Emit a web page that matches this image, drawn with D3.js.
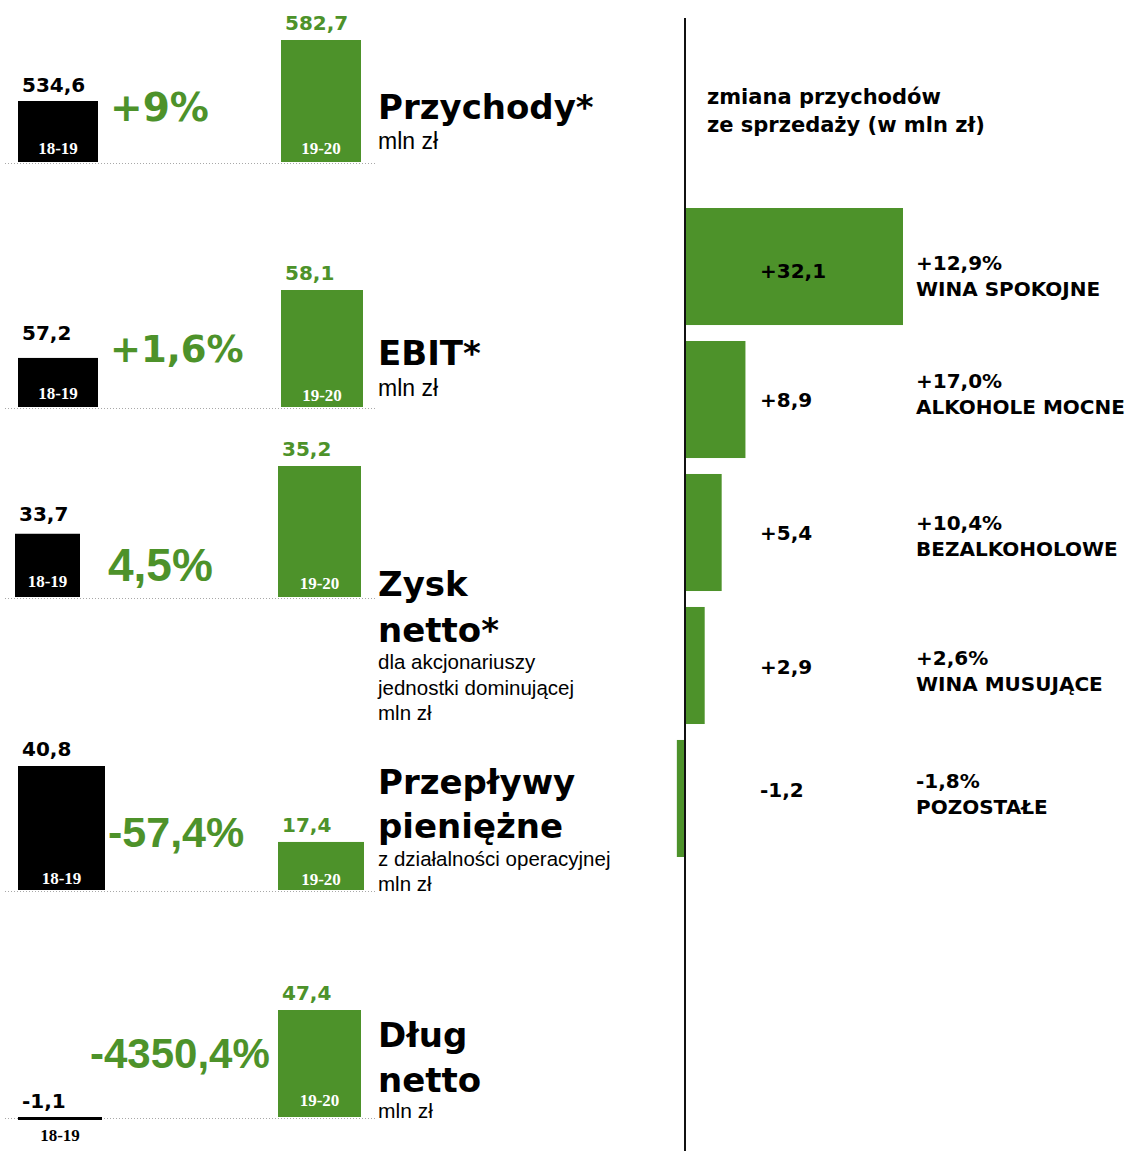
<!DOCTYPE html>
<meta charset="utf-8">
<title>Wyniki finansowe</title>
<style>
    body {
        margin: 0;
        background: #fff;
    }
    text {
        font-family: "DejaVu Sans", Verdana, sans-serif;
    }
    .val {
        font-size: 20px;
        font-weight: bold;
    }
    .period {
        font-family: "Liberation Serif", "Times New Roman", serif;
        font-weight: bold;
        font-size: 17px;
        text-anchor: middle;
    }
    .title {
        font-size: 34px;
        font-weight: bold;
    }
    .sub {
        font-family: "Liberation Sans", Arial, sans-serif;
    }
</style>

<body>
    <div id="chart"></div>
    <script src="https://cdnjs.cloudflare.com/ajax/libs/d3/7.8.5/d3.min.js"></script>

    <script>
        // left part: five indicators, previous vs current year
        var titleLines = [["Przychody*"], ["EBIT*"], ["Zysk", "netto*"], ["Przepływy", "pieniężne"], ["Dług", "netto"]];
        var subLines = [["mln zł"], ["mln zł"], ["dla akcjonariuszy", "jednostki dominującej", "mln zł"],
            ["z działalności operacyjnej", "mln zł"], ["mln zł"]];
        var periodLabels = ["18-19", "19-20"];
        var prevValues = [534.6, 57.2, 33.7, 40.8, -1.1];
        var currValues = [582.7, 58.1, 35.2, 17.4, 47.4];
        var changeLabels = ["+9%", "+1,6%", "4,5%", "-57,4%", "-4350,4%"];

        // right part: change of sales revenue by segment
        var segments = ["WINA SPOKOJNE", "ALKOHOLE MOCNE", "BEZALKOHOLOWE", "WINA MUSUJĄCE", "POZOSTAŁE"];
        var segChange = [32.1, 8.9, 5.4, 2.9, -1.2];
        var segPct = ["+12,9%", "+17,0%", "+10,4%", "+2,6%", "-1,8%"];

        var GREEN = "#4d922a";

        // panel layout (the bars in the original use a cut-off axis per panel)
        var panels = [
            {base: 162, floor: 486.5, hMax: 122, bx: 18, bw: 80, gx: 281, gw: 80, gapB: 9, off: [8, 8],
             cx: 110, cy: 121, cs: 39, cf: "wide", ty: [119], sy: [149], ss: 23},
            {base: 407, floor: 56.55, hMax: 117, bx: 18, bw: 80, gx: 281, gw: 82, gapB: 18, off: [8, 6],
             cx: 110, cy: 362, cs: 37, cf: "wide", ty: [365], sy: [396], ss: 23},
            {base: 597, floor: 32.3, hMax: 131, bx: 15, bw: 65, gx: 278, gw: 83, gapB: 13, off: [10, 8],
             cx: 108, cy: 581, cs: 46, cf: "narrow", ty: [596, 642], sy: [669, 695, 720], ss: 20.5},
            {base: 890, floor: 2.6, hMax: 124, bx: 18, bw: 87, gx: 278, gw: 86, gapB: 10, off: [6, 5],
             cx: 108, cy: 847, cs: 43, cf: "narrow", ty: [794, 838], sy: [866, 891], ss: 20.5},
            {base: 1117, floor: 0, hMax: 107, bx: 18, bw: 84, gx: 278, gw: 83, gapB: 9, off: [-24, 11],
             cx: 90, cy: 1068, cs: 42, cf: "narrow", ty: [1047, 1092], sy: [1118], ss: 21}
        ];

        var pl = d3.formatLocale({decimal: ",", thousands: " ", grouping: [3], currency: ["", " zł"], minus: "-"});
        var fmt = pl.format(".1f"),
            fmtSigned = pl.format("+.1f");

        var svg = d3.select("#chart")
            .append("svg")
            .attr("width", 1134)
            .attr("height", 1151);

        panels.forEach(function(p, i) {
            var vals = [prevValues[i], currValues[i]];
            var h = d3.scaleLinear().domain([p.floor, d3.max(vals)]).range([0, p.hMax]);
            var g = svg.append("g").attr("class", "panel");

            // dotted base line
            g.append("line")
                .attr("x1", 5).attr("x2", 375)
                .attr("y1", p.base + 1.5).attr("y2", p.base + 1.5)
                .attr("stroke", "#a8a8a8")
                .attr("stroke-dasharray", "1,2");

            var bars = [
                {v: vals[0], x: p.bx, w: p.bw, color: "#000", period: periodLabels[0], gap: p.gapB, off: p.off[0]},
                {v: vals[1], x: p.gx, w: p.gw, color: GREEN, period: periodLabels[1], gap: 10, off: p.off[1]}
            ];

            bars.forEach(function(b) {
                var hv = h(b.v);
                var top = hv >= 0 ? p.base - hv : p.base;
                var hh = Math.max(Math.abs(hv), 3);
                g.append("rect")
                    .attr("x", b.x)
                    .attr("y", top)
                    .attr("width", b.w)
                    .attr("height", hh)
                    .attr("fill", b.color);

                g.append("text")
                    .attr("class", "val")
                    .attr("x", b.x + 4)
                    .attr("y", Math.min(top, p.base) - b.gap)
                    .attr("fill", b.color)
                    .text(fmt(b.v));

                g.append("text")
                    .attr("class", "period")
                    .attr("x", b.x + b.w / 2)
                    .attr("y", p.base - b.off)
                    .attr("fill", b.v >= 0 ? "#fff" : "#000")
                    .text(b.period);
            });

            // percentage change
            g.append("text")
                .attr("x", p.cx)
                .attr("y", p.cy)
                .attr("fill", GREEN)
                .style("font-weight", "bold")
                .style("font-size", p.cs + "px")
                .style("font-family", p.cf == "wide" ? "'DejaVu Sans', Verdana, sans-serif" : "'Liberation Sans', Arial, sans-serif")
                .text(changeLabels[i]);

            // title
            titleLines[i].forEach(function(t, k) {
                g.append("text")
                    .attr("class", "title")
                    .attr("x", 378)
                    .attr("y", p.ty[k])
                    .text(t);
            });
            subLines[i].forEach(function(t, k) {
                g.append("text")
                    .attr("class", "sub")
                    .attr("x", 378)
                    .attr("y", p.sy[k])
                    .style("font-size", p.ss + "px")
                    .text(t);
            });
        });

        // ---- right part ----
        var rowDy = [  // small vertical shifts of the text rows in the original
            {v: 4.5, p: -3.5},
            {v: 0.5, p: -18.5},
            {v: 0, p: -9.5},
            {v: 1.5, p: -7.5},
            {v: -8.5, p: -17.5}
        ];

        var yBand = d3.scaleBand()
            .domain(segments)
            .range([208, 857])
            .paddingInner(0.12);
        var xScale = d3.scaleLinear()
            .domain([0, d3.max(segChange)])
            .range([685, 903]);

        var right = svg.append("g").attr("class", "segments");

        right.selectAll("rect")
            .data(segments)
            .enter().append("rect")
            .attr("x", (d, i) => xScale(Math.min(0, segChange[i])))
            .attr("y", d => yBand(d))
            .attr("width", (d, i) => Math.abs(xScale(segChange[i]) - xScale(0)))
            .attr("height", yBand.bandwidth())
            .attr("fill", GREEN);

        var mid = d => yBand(d) + yBand.bandwidth() / 2;

        right.selectAll(".segval")
            .data(segments)
            .enter().append("text")
            .attr("class", "val segval")
            .attr("x", 760)
            .attr("y", (d, i) => mid(d) + rowDy[i].v + 7)
            .text((d, i) => fmtSigned(segChange[i]));

        right.selectAll(".segpct")
            .data(segments)
            .enter().append("text")
            .attr("class", "val segpct")
            .attr("x", 916)
            .attr("y", (d, i) => mid(d) + rowDy[i].p + 7)
            .text((d, i) => segPct[i]);

        right.selectAll(".segname")
            .data(segments)
            .enter().append("text")
            .attr("class", "val segname")
            .attr("x", 916)
            .attr("y", (d, i) => mid(d) + rowDy[i].p + 33)
            .text(d => d);

        // vertical axis line
        svg.append("line")
            .attr("x1", 685).attr("x2", 685)
            .attr("y1", 18).attr("y2", 1151)
            .attr("stroke", "#111")
            .attr("stroke-width", 2);

        // right title
        svg.append("text")
            .attr("class", "val")
            .attr("x", 707)
            .attr("y", 104)
            .style("font-size", "21px")
            .text("zmiana przychodów");
        svg.append("text")
            .attr("class", "val")
            .attr("x", 707)
            .attr("y", 132)
            .style("font-size", "21px")
            .text("ze sprzedaży (w mln zł)");
    </script>
</body>
